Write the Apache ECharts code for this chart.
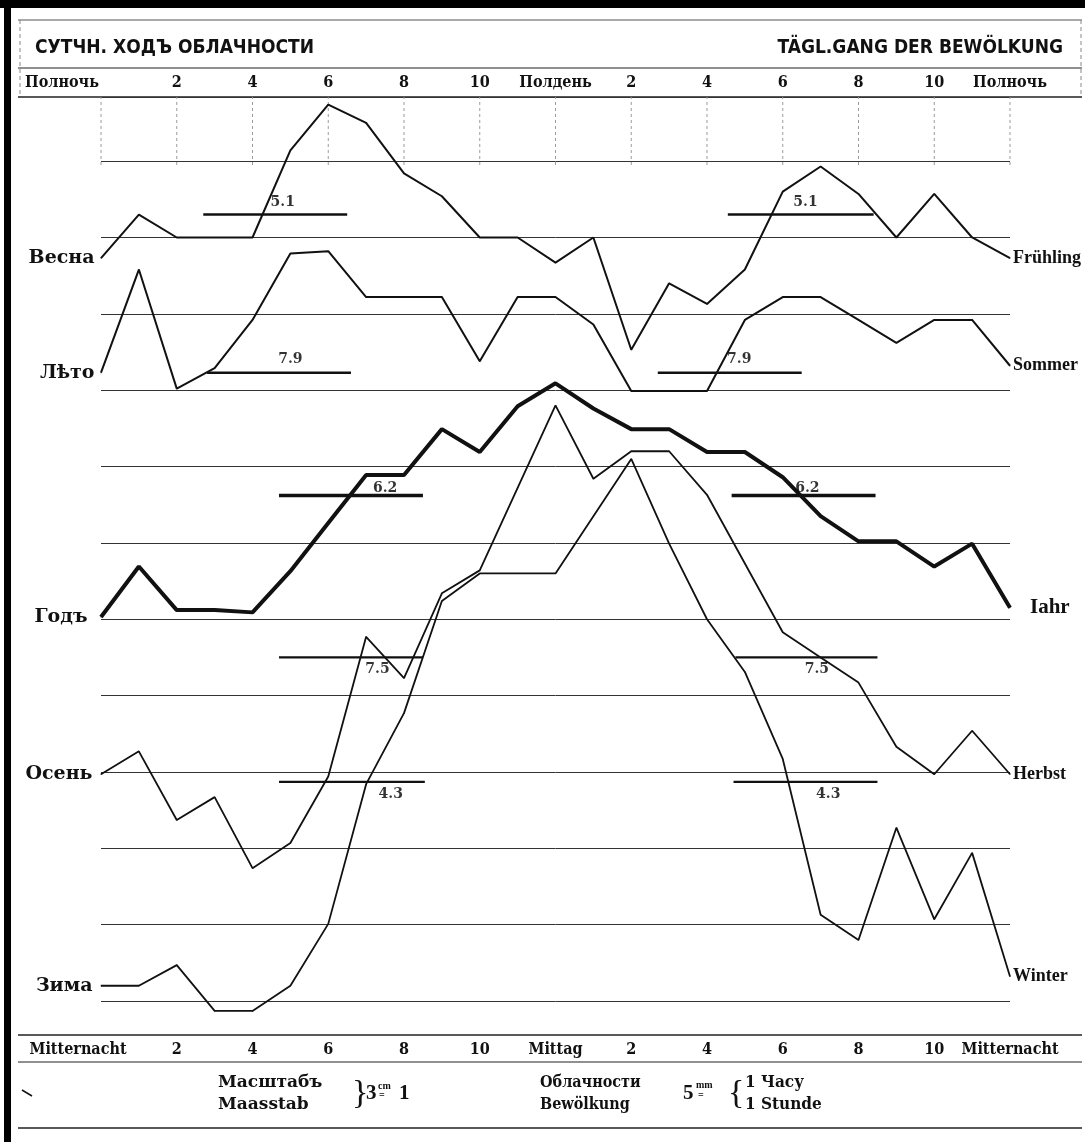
<!DOCTYPE html>
<html><head><meta charset="utf-8">
<script src="https://cdn.jsdelivr.net/npm/echarts@6/dist/echarts.min.js"></script>
<style>html,body{margin:0;padding:0;background:#fff}#c{width:1085px;height:1142px}</style>
</head><body><div id="c"></div>
<script>
// ---------------- DATA ----------------
const hours = [0,1,2,3,4,5,6,7,8,9,10,11,12,13,14,15,16,17,18,19,20,21,22,23,24];
const topTickLabels = ['Полночь','2','4','6','8','10','Полдень','2','4','6','8','10','Полночь'];
const bottomTickLabels = ['Mitternacht','2','4','6','8','10','Mittag','2','4','6','8','10','Mitternacht'];
const seasonsRu = ['Весна','Лѣто','Годъ','Осень','Зима'];
const seasonsDe = ['Frühling','Sommer','Iahr','Herbst','Winter'];
// cloudiness (0-10 scale) for each hour 0..24
const spring = [4.91,5.10,5.00,5.00,5.00,5.38,5.58,5.50,5.28,5.18,5.00,5.00,4.89,5.00,4.51,4.80,4.71,4.86,5.20,5.31,5.19,5.00,5.19,5.00,4.91];
const summer = [7.90,8.35,7.83,7.92,8.13,8.42,8.43,8.23,8.23,8.23,7.95,8.23,8.23,8.11,7.82,7.82,7.82,8.13,8.23,8.23,8.13,8.03,8.13,8.13,7.93];
const yearAll = [5.67,5.89,5.70,5.70,5.69,5.87,6.08,6.29,6.29,6.49,6.39,6.59,6.69,6.58,6.49,6.49,6.39,6.39,6.28,6.11,6.00,6.00,5.89,5.99,5.71];
const autumn = [6.99,7.09,6.79,6.89,6.58,6.69,6.98,7.59,7.41,7.78,7.88,8.24,8.60,8.28,8.40,8.40,8.21,7.91,7.61,7.50,7.39,7.11,6.99,7.18,6.99];
const winter = [3.41,3.41,3.50,3.30,3.30,3.41,3.68,4.29,4.60,5.09,5.21,5.21,5.21,5.46,5.71,5.34,5.01,4.78,4.40,3.72,3.61,4.10,3.70,3.99,3.45];
const means = [5.1, 7.9, 6.2, 7.5, 4.3];
// hour extents of the drawn mean bars (left and right copies)
const meanSpanLeft  = [[2.7,6.5],[2.8,6.6],[4.7,8.5],[4.7,8.5],[4.7,8.55]];
const meanSpanRight = [[16.55,20.4],[14.7,18.5],[16.65,20.45],[16.75,20.5],[16.7,20.5]];
const meanLabelHours = [[4.8,18.6],[5.0,16.85],[7.5,18.65],[7.3,18.9],[7.65,19.2]];
const gridHours = [0,2,4,6,8,10,12,14,16,18,20,22,24];

// ---------------- LAYOUT ----------------
// vertical axis in centimetres: 3 cm = 1 unit of cloudiness; each curve shifted by its own offset
const cmOffset = [-5, -15.47, -11.98, -18, -10.03];
const toY = (v, i) => 3 * v + cmOffset[i];
const allSeries = [spring, summer, yearAll, autumn, winter];
const INK = '#111';
const serif = '"DejaVu Serif", "Liberation Serif", serif';
const serifCond = '"DejaVu Serif Condensed", "DejaVu Serif", serif';
const libSerif = '"Liberation Serif", "DejaVu Serif", serif';
const sansCond = '"DejaVu Sans Condensed", "DejaVu Sans", sans-serif';
const lineW = [2, 2, 4, 1.8, 1.8];
const meanW = [2.5, 2.5, 3.5, 2.2, 2.2];
const leftDist = [6, 6, 13, 8, 8];
const rightDist = [3, 3, 20, 3, 3];
const meanLblPos = ['top','top','top','bottom','bottom'];
const meanLblDist = [5, 6, 0, 5, 5];

const series = [];
allSeries.forEach((vals, i) => {
  series.push({
    type: 'line', name: seasonsDe[i], xAxisIndex: 0, yAxisIndex: 0,
    clip: false, symbol: 'circle', symbolSize: 1, showSymbol: true,
    itemStyle: { color: INK }, lineStyle: { color: INK, width: lineW[i] },
    label: { show: false }, emphasis: { disabled: true }, z: 5,
    data: vals.map((v, h) => h === 0
      ? { value: [hours[h], toY(v, i)],
          label: { show: true, position: 'left', distance: leftDist[i], formatter: seasonsRu[i],
                   color: INK, fontFamily: serif, fontWeight: 'bold', fontSize: 19 } }
      : [hours[h], toY(v, i)]),
    endLabel: { show: true, formatter: seasonsDe[i], distance: rightDist[i], color: INK,
                fontFamily: libSerif, fontWeight: 'bold', fontSize: i === 2 ? 21 : 18 }
  });
  [meanSpanLeft[i], meanSpanRight[i]].forEach(sp => {
    series.push({
      type: 'line', clip: false, symbol: 'none', z: 4, emphasis: { disabled: true },
      lineStyle: { color: INK, width: meanW[i] },
      data: [[sp[0], toY(means[i], i)], [sp[1], toY(means[i], i)]]
    });
  });
  series.push({
    type: 'scatter', symbolSize: 0, clip: false, z: 6, emphasis: { disabled: true },
    data: meanLabelHours[i].map(h => [h, toY(means[i], i)]),
    label: { show: true, position: meanLblPos[i], distance: meanLblDist[i],
             formatter: means[i].toFixed(1), color: '#000', fontFamily: serif, fontWeight: 'bold', fontSize: 14 }
  });
});
// short dotted hour verticals in the top band
series.push({
  type: 'custom', z: 1, silent: true, clip: false,
  data: gridHours,
  renderItem: (params, api) => {
    const h = api.value(0);
    const a = api.coord([h, 10.95]), b = api.coord([h, 11.84]);
    return { type: 'line', shape: { x1: a[0], y1: a[1], x2: b[0], y2: b[1] },
             style: { stroke: '#9a9a9a', lineWidth: 1, lineDash: [3, 3] } };
  }
});

const T = (text, x, y, font, extra) => Object.assign({
  type: 'text', x, y, style: Object.assign({ text, fill: INK, font, textVerticalAlign: 'middle', verticalAlign: 'middle' }, extra || {})
});
const HL = (y, w, x1, x2, c) => ({ type: 'line', shape: { x1: x1 || 18, y1: y, x2: x2 || 1082, y2: y },
  style: { stroke: c || '#222', lineWidth: w } });

const graphic = [
  { type: 'rect', shape: { x: 0, y: 0, width: 1085, height: 8 }, style: { fill: '#000' } },
  { type: 'rect', shape: { x: 4, y: 0, width: 7, height: 1142 }, style: { fill: '#000' } },
  HL(20, 1, 18, 1082, '#555'), HL(68, 1.2), HL(97, 1.5), HL(1035, 1.5), HL(1062, 1.2), HL(1128, 1.5),
  { type: 'line', shape: { x1: 20, y1: 20, x2: 20, y2: 97 }, style: { stroke: '#888', lineWidth: 1, lineDash: [4, 3] } },
  { type: 'line', shape: { x1: 1081, y1: 20, x2: 1081, y2: 97 }, style: { stroke: '#888', lineWidth: 1, lineDash: [4, 3] } },
  { type: 'line', shape: { x1: 22, y1: 1090, x2: 32, y2: 1096 }, style: { stroke: INK, lineWidth: 1.5 } },
  T('СУТЧН. ХОДЪ ОБЛАЧНОСТИ', 35, 48, 'bold 19px ' + sansCond),
  T('TÄGL.GANG DER BEWÖLKUNG', 1063, 48, 'bold 19px ' + sansCond, { textAlign: 'right', align: 'right' }),
  T('Масштабъ', 218, 1083, 'bold 17px ' + serif),
  T('Maasstab', 218, 1105, 'bold 17px ' + serif),
  T('}', 352, 1094, '34px ' + libSerif),
  T('3', 366, 1094, 'bold 21px ' + libSerif),
  T('cm', 378, 1086, 'bold 10px ' + libSerif),
  T('=', 379, 1095, 'bold 10px ' + libSerif),
  T('1', 399, 1094, 'bold 21px ' + libSerif),
  T('Облачности', 540, 1083, 'bold 16px ' + serifCond),
  T('Bewölkung', 540, 1105, 'bold 16px ' + serifCond),
  T('5', 683, 1094, 'bold 21px ' + libSerif),
  T('mm', 696, 1085, 'bold 10px ' + libSerif),
  T('=', 698, 1095, 'bold 10px ' + libSerif),
  T('{', 728, 1094, '34px ' + libSerif),
  T('1 Часу', 745, 1083, 'bold 17px ' + serifCond),
  T('1 Stunde', 745, 1105, 'bold 17px ' + serifCond)
];

const labelFont = { color: INK, fontFamily: serifCond, fontWeight: 'bold', fontSize: 16 };
const option = {
  animation: false,
  backgroundColor: '#fff',
  grid: { left: 101, right: 75, top: 97, bottom: 141, containLabel: false },
  xAxis: [
    { type: 'value', position: 'top', min: 0, max: 24, interval: 2,
      axisLine: { show: false }, axisTick: { show: false }, splitLine: { show: false },
      axisLabel: Object.assign({ margin: 6, showMinLabel: true, showMaxLabel: true,
        formatter: v => { const i = Math.round(v / 2); return i === 0 ? '{s|' + topTickLabels[i] + '}' : topTickLabels[i]; },
        rich: { s: Object.assign({ padding: [0, 78, 0, 0] }, labelFont) } }, labelFont) },
    { type: 'value', position: 'bottom', offset: 34, min: 0, max: 24, interval: 2,
      axisLine: { show: false }, axisTick: { show: false }, splitLine: { show: false },
      axisLabel: Object.assign({ margin: 7, showMinLabel: true, showMaxLabel: true,
        formatter: v => { const i = Math.round(v / 2); return i === 0 ? '{s|' + bottomTickLabels[i] + '}' : bottomTickLabels[i]; },
        rich: { s: Object.assign({ padding: [0, 46, 0, 0] }, labelFont) } }, labelFont) }
  ],
  yAxis: { type: 'value', min: 0, max: 11.84, interval: 1,
    axisLine: { show: false }, axisTick: { show: false }, axisLabel: { show: false },
    splitLine: { show: true, lineStyle: { color: '#333', width: 1 } } },
  graphic: graphic,
  series: series
};
const chart = echarts.init(document.getElementById('c'), null, { renderer: 'canvas' });
chart.setOption(option);
</script></body></html>
